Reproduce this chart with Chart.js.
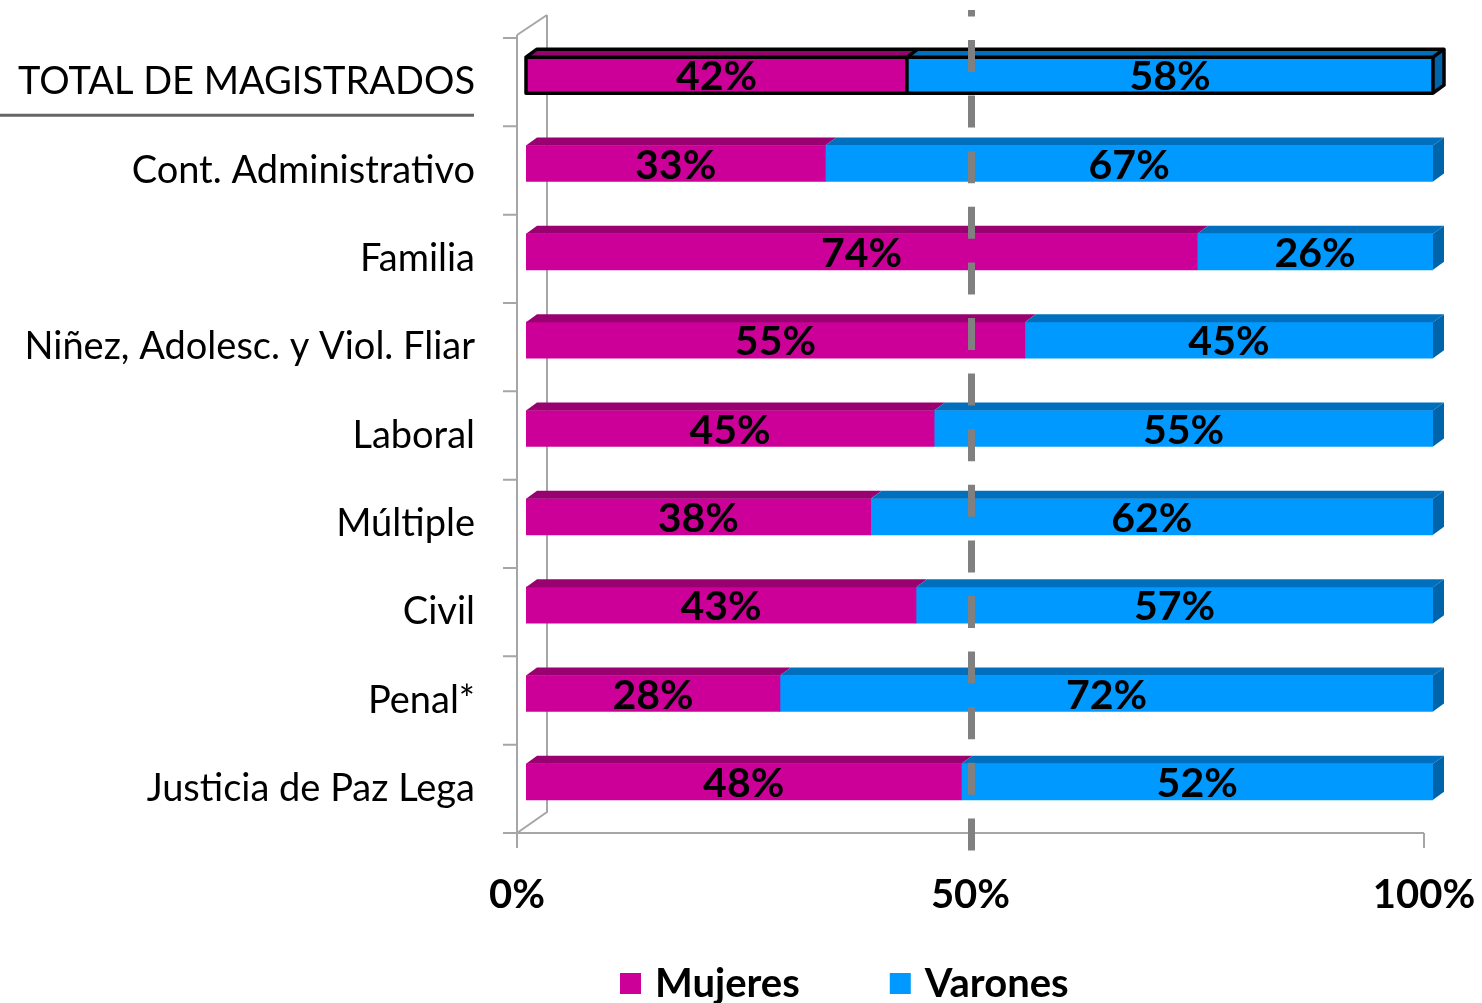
<!DOCTYPE html>
<html>
<head>
<meta charset="utf-8">
<script src="https://cdn.jsdelivr.net/npm/chart.js@4/dist/chart.umd.min.js"></script>
<style>
  html, body { margin: 0; padding: 0; background: #fff; }
  #wrap { width: 1482px; height: 1003px; }
</style>
</head>
<body>
<div id="wrap"><canvas id="chart" width="1482" height="1003"></canvas></div>
<script>
// Data
const categories = [
  'TOTAL DE MAGISTRADOS',
  'Cont. Administrativo',
  'Familia',
  'Niñez, Adolesc. y Viol. Fliar',
  'Laboral',
  'Múltiple',
  'Civil',
  'Penal*',
  'Justicia de Paz Lega'
];
const mujeres = [42, 33, 74, 55, 45, 38, 43, 28, 48];
const varones = [58, 67, 26, 45, 55, 62, 57, 72, 52];
const xTickValues = [0, 50, 100];
const seriesNames = ['Mujeres', 'Varones'];

// 3D look
const OFF_X = 9, OFF_Y = -7;      // bar front face shift from front wall
const DEPTH_X = 11, DEPTH_Y = -8; // bar depth
const WALL_X = 30, WALL_Y = -21;  // back wall shift
const AXIS_GREY = '#A6A6A6';
const FONT = 'Lato, "Open Sans", sans-serif';

const frontColors = ['#CC0099', '#0099FF'];
const topColors = ['#990070', '#0070BE'];
const sideColor = '#0064AA';

function poly(ctx, pts) {
  ctx.beginPath();
  ctx.moveTo(pts[0][0], pts[0][1]);
  for (let i = 1; i < pts.length; i++) ctx.lineTo(pts[i][0], pts[i][1]);
  ctx.closePath();
}

// Draws the walls, the 3D faces of the bars, the 50% line, labels and legend
const bars3d = {
  id: 'bars3d',
  beforeDatasetsDraw(chart) {
    const { ctx, chartArea: a, scales } = chart;
    const band = (a.bottom - a.top) / categories.length;
    ctx.save();
    ctx.strokeStyle = AXIS_GREY;
    ctx.lineWidth = 2;
    ctx.beginPath();
    // front wall
    ctx.moveTo(a.left, a.top - 3);
    ctx.lineTo(a.left, a.bottom + 15);
    for (let i = 0; i <= categories.length; i++) {
      const y = a.top + i * band;
      ctx.moveTo(a.left - 14, y);
      ctx.lineTo(a.left, y);
    }
    // back wall + diagonals
    ctx.moveTo(a.left + WALL_X, a.top + WALL_Y - 2);
    ctx.lineTo(a.left + WALL_X, a.bottom + WALL_Y);
    ctx.lineTo(a.left, a.bottom);
    ctx.moveTo(a.left, a.top - 3);
    ctx.lineTo(a.left + WALL_X, a.top + WALL_Y - 2);
    // floor
    ctx.moveTo(a.left - 14, a.bottom);
    ctx.lineTo(a.right, a.bottom);
    xTickValues.forEach(v => {
      const x = scales.x.getPixelForValue(v);
      ctx.moveTo(x, a.bottom);
      ctx.lineTo(x, a.bottom + 15);
    });
    ctx.stroke();

    // underline under the total label
    ctx.strokeStyle = '#666666';
    ctx.lineWidth = 3;
    ctx.beginPath();
    const yTot = scales.y.getPixelForValue(0) + 33;
    ctx.moveTo(0, yTot);
    ctx.lineTo(a.left - 43, yTot);
    ctx.stroke();
    ctx.restore();

    // shift the bar front faces into the depth
    ctx.save();
    ctx.translate(OFF_X, OFF_Y);
  },
  afterDatasetsDraw(chart) {
    const { ctx, scales } = chart;
    const last = chart.data.datasets.length - 1;
    const geo = [];
    chart.data.datasets.forEach((ds, di) => {
      const meta = chart.getDatasetMeta(di);
      meta.data.forEach((el, i) => {
        const p = el.getProps(['x', 'y', 'base', 'height'], true);
        const l = Math.min(p.base, p.x), r = Math.max(p.base, p.x);
        const t = p.y - p.height / 2, b = p.y + p.height / 2;
        (geo[i] = geo[i] || [])[di] = { l, r, t, b, y: p.y, v: ds.data[i] };
        ctx.fillStyle = topColors[di];
        poly(ctx, [[l, t], [r, t], [r + DEPTH_X, t + DEPTH_Y], [l + DEPTH_X, t + DEPTH_Y]]);
        ctx.fill();
        if (di === last) {
          ctx.fillStyle = sideColor;
          poly(ctx, [[r, t], [r + DEPTH_X, t + DEPTH_Y], [r + DEPTH_X, b + DEPTH_Y], [r, b]]);
          ctx.fill();
        }
      });
    });

    // black outline around the total row
    const g = geo[0];
    if (g) {
      const l = g[0].l, m = g[0].r, r = g[last].r, t = g[0].t, b = g[0].b;
      ctx.strokeStyle = '#000';
      ctx.lineWidth = 3.5;
      ctx.lineJoin = 'round';
      poly(ctx, [[l, t], [l + DEPTH_X, t + DEPTH_Y], [r + DEPTH_X, t + DEPTH_Y],
                 [r + DEPTH_X, b + DEPTH_Y], [r, b], [l, b]]);
      ctx.stroke();
      ctx.beginPath();
      ctx.moveTo(l, t); ctx.lineTo(r, t); ctx.lineTo(r + DEPTH_X, t + DEPTH_Y);
      ctx.moveTo(r, t); ctx.lineTo(r, b);
      ctx.moveTo(m, b); ctx.lineTo(m, t); ctx.lineTo(m + DEPTH_X, t + DEPTH_Y);
      ctx.stroke();
    }
    ctx.restore();

    // dashed 50% line
    const x50 = scales.x.getPixelForValue(50) + 1;
    ctx.save();
    ctx.strokeStyle = '#808080';
    ctx.lineWidth = 7;
    ctx.setLineDash([32, 23.6]);
    ctx.lineDashOffset = 25.6;
    ctx.beginPath();
    ctx.moveTo(x50, 10);
    ctx.lineTo(x50, 857);
    ctx.stroke();
    ctx.restore();

    // value labels
    ctx.save();
    ctx.fillStyle = '#000';
    ctx.font = 'bold 41px ' + FONT;
    ctx.textAlign = 'center';
    ctx.textBaseline = 'alphabetic';
    geo.forEach(row => row.forEach(s => {
      ctx.fillText(s.v + '%', (s.l + s.r) / 2 + OFF_X, s.y + OFF_Y + 15);
    }));
    ctx.restore();

    // legend
    ctx.save();
    ctx.font = 'bold 40px ' + FONT;
    ctx.textBaseline = 'alphabetic';
    ctx.textAlign = 'left';
    let lx = 620;
    chart.data.datasets.forEach((ds, di) => {
      ctx.fillStyle = frontColors[di];
      ctx.fillRect(lx, 973, 21, 21);
      ctx.fillStyle = '#000';
      ctx.fillText(ds.label, lx + 35, 997);
      lx += 35 + ctx.measureText(ds.label).width + 90;
    });
    ctx.restore();
  }
};

new Chart(document.getElementById('chart'), {
  type: 'bar',
  data: {
    labels: categories,
    datasets: [
      { label: seriesNames[0], data: mujeres, backgroundColor: frontColors[0], borderWidth: 0, barThickness: 36 },
      { label: seriesNames[1], data: varones, backgroundColor: frontColors[1], borderWidth: 0, barThickness: 36 }
    ]
  },
  options: {
    indexAxis: 'y',
    responsive: false,
    animation: false,
    layout: { padding: { top: 38, right: 58, left: 0, bottom: 0 } },
    plugins: {
      legend: { display: false },
      tooltip: { enabled: false }
    },
    scales: {
      x: {
        stacked: true,
        min: 0,
        max: 100,
        grid: { display: false },
        border: { display: false },
        afterBuildTicks: s => { s.ticks = xTickValues.map(v => ({ value: v })); },
        afterFit: s => {
          s.height = 170;
          s.paddingLeft = 0;
          s.paddingRight = 0;
        },
        ticks: {
          color: '#000',
          font: { family: FONT, size: 40, weight: 'bold' },
          padding: 30,
          maxRotation: 0,
          autoSkip: false,
          callback: v => v + '%'
        }
      },
      y: {
        stacked: true,
        grid: { display: false },
        border: { display: false },
        afterFit: s => {
          s.width = 517;
          s.paddingTop = 0;
          s.paddingBottom = 0;
        },
        ticks: {
          color: '#000',
          font: { family: FONT, size: 38 },
          padding: 34
        }
      }
    }
  },
  plugins: [bars3d]
});
</script>
</body>
</html>
